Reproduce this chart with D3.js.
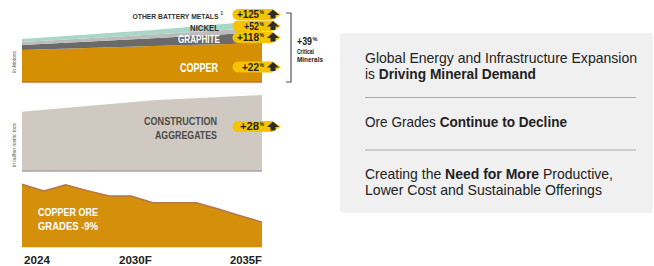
<!DOCTYPE html>
<html>
<head>
<meta charset="utf-8">
<script src="https://cdn.jsdelivr.net/npm/d3@7"></script>
<style>
  body { margin: 0; background: #fff; }
  svg text { font-family: 'Liberation Sans', Arial, sans-serif; }
</style>
</head>
<body>
<div id="chart"></div>
<script>
// years on the x axis
var years = [2024, 2025, 2026, 2027, 2028, 2029, 2030, 2031, 2032, 2033, 2034, 2035];
var tickYears = [2024, 2030, 2035];
var tickLabels = ["2024", "2030F", "2035F"];

// critical minerals demand, kilotons (read at 2024 / 2030 / 2035)
var stackYears = [2024, 2030, 2035];
var copper = [26000, 29300, 31700];
var graphite = [4000, 6200, 8720];
var nickel = [2500, 3100, 3800];
var otherBattery = [2500, 3700, 5600];
var stackPct = ["+22", "+118", "+52", "+125"];

// construction aggregates, million metric tons (scaled)
var aggYears = [2024, 2030, 2035];
var aggregates = [50, 59.5, 64];

// copper ore grade index
var oreGrade = [100, 98.4, 99.9, 98.5, 97.2, 97.2, 95.6, 95.6, 95.6, 94.1, 92.5, 91.0];

var svgWidth = 654, svgHeight = 266;
var svg = d3.select("#chart").append("svg").attr("width", svgWidth).attr("height", svgHeight);

// squeeze text into the condensed width seen in the picture
function fit(sel, w) {
    return sel.attr("textLength", w).attr("lengthAdjust", "spacingAndGlyphs");
}

var x = d3.scaleLinear().domain([2024, 2035]).range([22, 262]);

// ---- top stacked chart
var yTop = d3.scaleLinear().domain([0, 52000]).range([82, 18]);
var stackData = stackYears.map(function(yr, i) {
    return { year: yr, copper: copper[i], graphite: graphite[i], nickel: nickel[i], other: otherBattery[i] };
});
var series = d3.stack().keys(["copper", "graphite", "nickel", "other"])(stackData);
var stackColors = { copper: "#d48f03", graphite: "#6a6a6a", nickel: "#bcbcbc", other: "#a9d6c6" };

var areaTop = d3.area()
    .x(function(d) { return x(d.data.year); })
    .y0(function(d) { return yTop(d[0]); })
    .y1(function(d) { return yTop(d[1]); });

svg.append("g").selectAll("path").data(series).enter().append("path")
    .attr("d", areaTop)
    .attr("fill", function(d) { return stackColors[d.key]; });

svg.append("line")
    .attr("x1", x(2024)).attr("x2", x(2035))
    .attr("y1", yTop(0)).attr("y2", yTop(0))
    .attr("stroke", "#c8702c").attr("stroke-width", 1.5);

// ---- construction aggregates
var yAgg = d3.scaleLinear().domain([0, 64]).range([171, 95]);
var aggData = aggYears.map(function(yr, i) { return { year: yr, v: aggregates[i] }; });
svg.append("path")
    .datum(aggData)
    .attr("d", d3.area().x(function(d) { return x(d.year); }).y0(yAgg(0)).y1(function(d) { return yAgg(d.v); }))
    .attr("fill", "#cfc9c2");
svg.append("line")
    .attr("x1", x(2024)).attr("x2", x(2035))
    .attr("y1", yAgg(0)).attr("y2", yAgg(0))
    .attr("stroke", "#a8a39e").attr("stroke-width", 1.5);

// ---- copper ore grades
var yOre = d3.scaleLinear().domain([85, 100]).range([247.3, 184.3]);
var oreData = years.map(function(yr, i) { return { year: yr, v: oreGrade[i] }; });
svg.append("path")
    .datum(oreData)
    .attr("d", d3.area().x(function(d) { return x(d.year); }).y0(yOre(85)).y1(function(d) { return yOre(d.v); }))
    .attr("fill", "#d48f0b");
svg.append("path")
    .datum(oreData)
    .attr("d", d3.line().x(function(d) { return x(d.year); }).y(function(d) { return yOre(d.v); }))
    .attr("fill", "none").attr("stroke", "#b5764e").attr("stroke-width", 1.5);

// x labels
var tickW = [26, 33, 32];
svg.append("g").selectAll("text").data(tickYears).enter().append("text")
    .attr("x", function(d, i) { return i == 0 ? x(d) + 2 : x(d) - (i == 1 ? 1 : 0); })
    .attr("y", 264)
    .attr("text-anchor", function(d, i) { return i == 0 ? "start" : "end"; })
    .attr("font-size", 11.5).attr("font-weight", "bold").attr("fill", "#222")
    .attr("textLength", function(d, i) { return tickW[i]; })
    .attr("lengthAdjust", "spacingAndGlyphs")
    .text(function(d, i) { return tickLabels[i]; });

// unit labels
function unitLabel(txt, cy, w) {
    fit(svg.append("text")
        .attr("transform", "translate(16," + cy + ") rotate(-90)")
        .attr("text-anchor", "middle")
        .attr("font-size", 5).attr("font-style", "italic").attr("fill", "#555")
        .text(txt), w);
}
unitLabel("In kilotons", 62, 22);
unitLabel("In million metric tons", 145, 44);

// series labels
function label(txt, xx, yy, size, color, w) {
    return fit(svg.append("text").attr("x", xx).attr("y", yy)
        .attr("text-anchor", "end").attr("font-size", size)
        .attr("font-weight", "bold").attr("fill", color).text(txt), w);
}
label("OTHER BATTERY METALS", 218.5, 19, 8, "#333", 86);
svg.append("text").attr("x", 220.5).attr("y", 15).attr("font-size", 4.5).attr("font-weight", "bold")
    .attr("fill", "#333").text("1");
label("NICKEL", 219, 30.5, 8.5, "#333", 29);
label("GRAPHITE", 220, 42.5, 10.5, "#fff", 42);
label("COPPER", 218, 71.5, 13, "#fff", 38);
label("CONSTRUCTION", 217, 125, 11.5, "#4d4a47", 73);
label("AGGREGATES", 217, 139, 11.5, "#4d4a47", 62);

fit(svg.append("text").attr("x", 38).attr("y", 216)
    .attr("font-size", 10.5).attr("font-weight", "bold").attr("fill", "#fff").text("COPPER ORE"), 60);
fit(svg.append("text").attr("x", 38).attr("y", 230)
    .attr("font-size", 10.5).attr("font-weight", "bold").attr("fill", "#fff").text("GRADES -9%"), 60);

// badges
function badge(cy, pct, w) {
    var g = svg.append("g");
    g.append("path")
        .attr("d", "M238," + (cy - 5.5) + " L272," + (cy - 5.5) + " L281," + cy + " L272," + (cy + 5.5) +
              " L238," + (cy + 5.5) + " A5.5,5.5 0 0 1 238," + (cy - 5.5) + "Z")
        .attr("fill", "#f5c400");
    g.append("path")
        .attr("d", "M273," + (cy - 5) + " L279," + (cy + 0.5) + " L275.5," + (cy + 0.5) + " L275.5," + (cy + 4) +
              " L270.5," + (cy + 4) + " L270.5," + (cy + 0.5) + " L267," + (cy + 0.5) + "Z")
        .attr("fill", "#2b2b2b");
    fit(g.append("text").attr("x", 259).attr("y", cy + 3.6).attr("text-anchor", "end")
        .attr("font-size", 10.5).attr("font-weight", "bold").attr("fill", "#222").text(pct), w);
    g.append("text").attr("x", 259.5).attr("y", cy - 0.5).attr("font-size", 5)
        .attr("font-weight", "bold").attr("fill", "#222").text("%");
}
badge(14.5, stackPct[3], 22);
badge(26, stackPct[2], 15);
badge(37.5, stackPct[1], 22);
badge(67, stackPct[0], 17);
badge(126.5, "+28", 19);

// bracket
svg.append("path")
    .attr("d", "M286,13 L291,13 L291,82 L286,82")
    .attr("fill", "none").attr("stroke", "#555").attr("stroke-width", 1.2);
fit(svg.append("text").attr("x", 297).attr("y", 45)
    .attr("font-size", 11).attr("font-weight", "bold").attr("fill", "#222").text("+39"), 15);
svg.append("text").attr("x", 312.5).attr("y", 41).attr("font-size", 5.5)
    .attr("font-weight", "bold").attr("fill", "#222").text("%");
fit(svg.append("text").attr("x", 297).attr("y", 54).attr("font-size", 7).attr("font-weight", "bold").attr("fill", "#222").text("Critical"), 17);
fit(svg.append("text").attr("x", 297).attr("y", 61.5).attr("font-size", 7).attr("font-weight", "bold").attr("fill", "#222").text("Minerals"), 26);

// right panel
svg.append("rect").attr("x", 340).attr("y", 33).attr("width", 313).attr("height", 180)
    .attr("rx", 4).attr("fill", "#f0f0f0");
svg.selectAll("line.sep").data([97.5, 150]).enter().append("line")
    .attr("class", "sep")
    .attr("x1", 365).attr("x2", 636).attr("y1", function(d) { return d; }).attr("y2", function(d) { return d; })
    .attr("stroke", "#aaa").attr("stroke-width", 1);

var panelLines = [
    { y: 63, w: 272, parts: [["Global Energy and Infrastructure Expansion", false]] },
    { y: 79, w: 171, parts: [["is ", false], ["Driving Mineral Demand", true]] },
    { y: 127, w: 202, parts: [["Ore Grades ", false], ["Continue to Decline", true]] },
    { y: 179, w: 248, parts: [["Creating the ", false], ["Need for More", true], [" Productive,", false]] },
    { y: 195, w: 237, parts: [["Lower Cost and Sustainable Offerings", false]] }
];
panelLines.forEach(function(l) {
    var tt = svg.append("text").attr("x", 365).attr("y", l.y).attr("font-size", 14.5).attr("fill", "#222")
        .style("white-space", "pre");
    l.parts.forEach(function(p) {
        tt.append("tspan").attr("font-weight", p[1] ? "bold" : "normal").text(p[0]);
    });
    fit(tt, l.w);
});
</script>
</body>
</html>
